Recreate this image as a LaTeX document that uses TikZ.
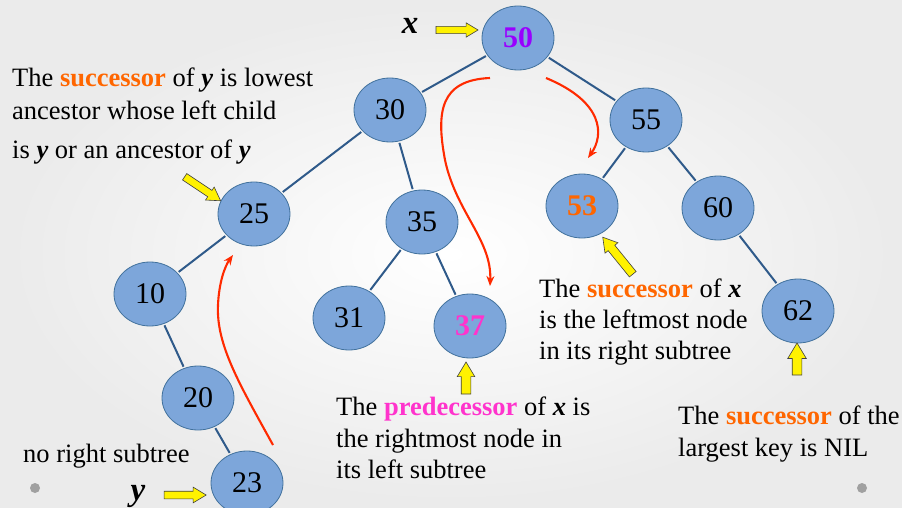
\documentclass[tikz,border=0pt]{standalone}
\usepackage{fontspec}
\setmainfont{Liberation Serif}
\usetikzlibrary{shapes.geometric,shapes.arrows,arrows.meta,calc}
\definecolor{nodefill}{HTML}{7DA6DA}
\definecolor{nodeborder}{HTML}{41719C}
\definecolor{edgecol}{HTML}{2F5A8A}
\definecolor{redc}{HTML}{FF2A00}
\definecolor{orangec}{HTML}{FF6600}
\definecolor{magc}{HTML}{FF33CC}
\definecolor{purpc}{HTML}{9900FF}
\definecolor{dotc}{HTML}{A0A0A0}
\newcommand{\yarr}[4]{%
  \path let \p1=($(#2)-(#1)$), \n1={veclen(\x1,\y1)} in (#1) -- (#2)
    node[midway, sloped, allow upside down, yarrow, minimum height=\n1, inner ysep=#3, single arrow head extend=#4]{};}
\newcommand{\SUC}{\textcolor{orangec}{\textbf{successor}}}
\newcommand{\bix}{\textbf{\textit{x}}}
\newcommand{\biy}{\textbf{\textit{y}}}
\begin{document}
\begin{tikzpicture}[x=1pt,y=-1pt,
  bst/.style={ellipse, draw=nodeborder, fill=nodefill, line width=0.8pt, minimum width=72pt, minimum height=64pt, inner sep=0pt, font=\fontsize{30}{30}\selectfont},
  edge/.style={draw=edgecol, line width=2pt, shorten <=1.5pt, shorten >=1.5pt},
  redarrow/.style={draw=redc, line width=2.1pt, -{Stealth[length=10pt,width=8pt]}},
  yarrow/.style={single arrow, draw=black!75, fill=yellow, line width=0.6pt, inner xsep=0pt, single arrow tip angle=62, single arrow head indent=0pt},
  txt/.style={anchor=base west, font=\fontsize{26.5}{26.5}\selectfont, inner sep=0pt},
  bigl/.style={anchor=base, font=\fontsize{33}{33}\selectfont\bfseries\itshape, inner sep=0pt}
]
\shade[inner color=white, outer color=black!8] (0,0) rectangle (902,508);
\useasboundingbox (0,0) rectangle (902,508);
\fill[dotc] (35,488) circle (5);
\fill[dotc] (862,488) circle (5);

% nodes
\node[bst] (n50) at (518,38) {\textcolor{purpc}{\textbf{50}}};
\node[bst] (n30) at (390,110) {30};
\node[bst] (n55) at (646,120) {55};
\node[bst] (n25) at (254,214) {25};
\node[bst] (n35) at (422,222) {35};
\node[bst] (n53) at (582,206) {\textcolor{orangec}{\textbf{53}}};
\node[bst] (n60) at (718,208) {60};
\node[bst] (n10) at (150,294) {10};
\node[bst] (n31) at (349,318) {31};
\node[bst] (n37) at (470,326) {\textcolor{magc}{\textbf{37}}};
\node[bst] (n62) at (798,311) {62};
\node[bst] (n20) at (198,398) {20};
\node[bst] (n23) at (247,483) {23};

% edges
\draw[edge] (n50) -- (n30);
\draw[edge] (n50) -- (n55);
\draw[edge] (n30) -- (n25);
\draw[edge] (n30) -- (n35);
\draw[edge] (n55) -- (n53);
\draw[edge] (n55) -- (n60);
\draw[edge] (n25) -- (n10);
\draw[edge] (n35) -- (n31);
\draw[edge] (n35) -- (n37);
\draw[edge] (n60) -- (n62);
\draw[edge] (n10) -- (n20);
\draw[edge] (n20) -- (n23);

% red curves
\coordinate (r1s) at (273,445);
\coordinate (r1e) at (233,255);
\coordinate (r2s) at (490,78);
\coordinate (r2e) at (490,286);
\coordinate (r3s) at (546,78);
\coordinate (r3e) at (588,158);
\draw[redarrow] (r1s) .. controls (240,385) and (216,345) .. (218,305) .. controls (219,282) and (225,266) .. (r1e);
\draw[redarrow] (r2s) .. controls (440,80) and (436,112) .. (445,160) .. controls (456,212) and (492,240) .. (r2e);
\draw[redarrow] (r3s) .. controls (604,102) and (604,135) .. (r3e);

% yellow arrows
\coordinate (ax1) at (433,30); \coordinate (ax2) at (475,30);
\coordinate (a25a) at (182,175); \coordinate (a25b) at (218,199);
\coordinate (ay1) at (161,495); \coordinate (ay2) at (203,495);
\coordinate (a53a) at (635,277); \coordinate (a53b) at (605,240);
\coordinate (a37a) at (466,398); \coordinate (a37b) at (466,366);
\coordinate (a62a) at (797,379); \coordinate (a62b) at (797,347);
\yarr{ax1}{ax2}{3.3pt}{3.5pt}
\yarr{a25a}{a25b}{3.5pt}{4pt}
\yarr{ay1}{ay2}{3.5pt}{4pt}
\yarr{a53a}{a53b}{4pt}{4pt}
\yarr{a37a}{a37b}{4.5pt}{4pt}
\yarr{a62a}{a62b}{4.5pt}{4.5pt}

% labels
\node[bigl] (lx) at (410,34) {x};
\node[bigl] (ly) at (138,500) {y};

\node[txt] (t1a) at (12,87) {The \SUC{} of \biy{} is lowest};
\node[txt] (t1b) at (12,120) {ancestor whose left child};
\node[txt] (t1c) at (12,158) {is \biy{} or an ancestor of \biy};

\node[txt] (t2) at (23,462) {no right subtree};

\node[txt] (t3a) at (336,415) {The \textcolor{magc}{\textbf{predecessor}} of \bix{} is};
\node[txt] (t3b) at (336,447) {the rightmost node in};
\node[txt] (t3c) at (336,478) {its left subtree};

\node[txt] (t4a) at (539,297) {The \SUC{} of \bix};
\node[txt] (t4b) at (539,328) {is the leftmost node};
\node[txt] (t4c) at (539,359) {in its right subtree};

\node[txt] (t5a) at (678,424) {The \SUC{} of the};
\node[txt] (t5b) at (678,456) {largest key is NIL};
\end{tikzpicture}
\end{document}
